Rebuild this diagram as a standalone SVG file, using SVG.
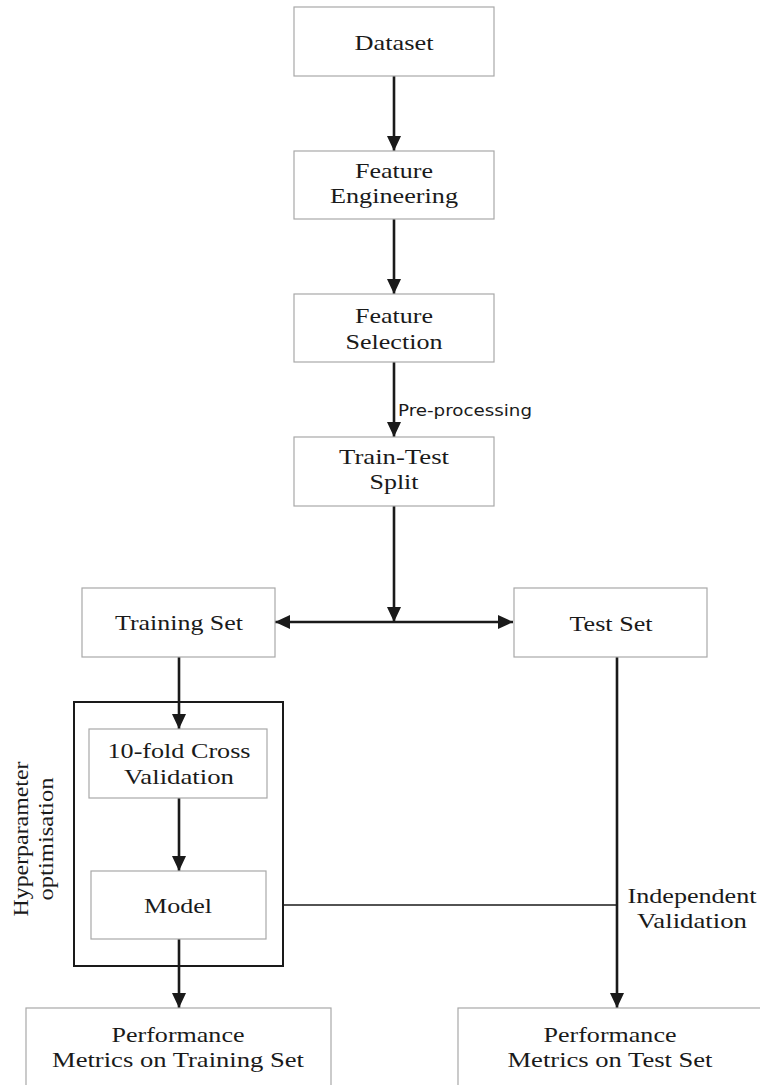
<svg xmlns="http://www.w3.org/2000/svg" width="760" height="1085" viewBox="0 0 760 1085">
<style>
.box{fill:#fff;stroke:#a8a8a8;stroke-width:1.2}
.t{font-family:"Liberation Serif","Times New Roman",serif;font-size:22px;fill:#1a1a1a;text-anchor:middle}
.lbl{font-family:"DejaVu Sans",sans-serif;font-size:16px;fill:#1a1a1a}
.ar{fill:none;stroke:#1a1a1a;stroke-width:2.6;marker-end:url(#ah)}
.ln{fill:none;stroke:#1a1a1a;stroke-width:2.6}
</style>
<defs>
<marker id="ah" markerUnits="userSpaceOnUse" markerWidth="16" markerHeight="14" refX="15" refY="7" orient="auto">
<path d="M0,0 L15,7 L0,14 z" fill="#1a1a1a"/>
</marker>
<marker id="ahs" markerUnits="userSpaceOnUse" markerWidth="16" markerHeight="14" refX="15" refY="7" orient="auto-start-reverse">
<path d="M0,0 L15,7 L0,14 z" fill="#1a1a1a"/>
</marker>
</defs>
<rect width="760" height="1085" fill="#fff"/>

<g id="connectors">
<line class="ar" x1="394" y1="76" x2="394" y2="151"/>
<line class="ar" x1="394" y1="219" x2="394" y2="294"/>
<line class="ar" x1="394" y1="362" x2="394" y2="437"/>
<line class="ar" x1="394" y1="506" x2="394" y2="622"/>
<line class="ln" x1="275" y1="622" x2="513" y2="622" marker-start="url(#ahs)" marker-end="url(#ah)"/>
<line class="ar" x1="179" y1="657" x2="179" y2="729"/>
<line class="ar" x1="179" y1="798" x2="179" y2="871"/>
<line class="ar" x1="179" y1="939" x2="179" y2="1008"/>
<line class="ar" x1="617" y1="657" x2="617" y2="1008"/>
<line fill="none" stroke="#1a1a1a" stroke-width="1.6" x1="283" y1="905" x2="617" y2="905"/>
<text class="lbl" x="398" y="416" textLength="134" lengthAdjust="spacingAndGlyphs">Pre-processing</text>
<text class="t" x="692" y="903" textLength="129" lengthAdjust="spacingAndGlyphs">Independent</text>
<text class="t" x="692" y="928" textLength="110" lengthAdjust="spacingAndGlyphs">Validation</text>
</g>

<g id="hyperparameter">
<rect x="74" y="702" width="209" height="264" fill="none" stroke="#1a1a1a" stroke-width="2"/>
<text class="t" transform="translate(28,839) rotate(-90)" x="0" y="0" textLength="155" lengthAdjust="spacingAndGlyphs">Hyperparameter</text>
<text class="t" transform="translate(53,839) rotate(-90)" x="0" y="0" textLength="123" lengthAdjust="spacingAndGlyphs">optimisation</text>
</g>

<g id="dataset">
<rect class="box" x="294" y="7" width="200" height="69"/>
<text class="t" x="394" y="50" textLength="79" lengthAdjust="spacingAndGlyphs">Dataset</text>
</g>
<g id="feature-engineering">
<rect class="box" x="294" y="151" width="200" height="68"/>
<text class="t" x="394" y="178" textLength="78" lengthAdjust="spacingAndGlyphs">Feature</text>
<text class="t" x="394" y="203" textLength="128" lengthAdjust="spacingAndGlyphs">Engineering</text>
</g>
<g id="feature-selection">
<rect class="box" x="294" y="294" width="200" height="68"/>
<text class="t" x="394" y="323" textLength="78" lengthAdjust="spacingAndGlyphs">Feature</text>
<text class="t" x="394" y="349" textLength="97" lengthAdjust="spacingAndGlyphs">Selection</text>
</g>
<g id="train-test-split">
<rect class="box" x="294" y="437" width="200" height="69"/>
<text class="t" x="394" y="464" textLength="110" lengthAdjust="spacingAndGlyphs">Train-Test</text>
<text class="t" x="394" y="489" textLength="49" lengthAdjust="spacingAndGlyphs">Split</text>
</g>
<g id="training-set">
<rect class="box" x="82" y="588" width="193" height="69"/>
<text class="t" x="179" y="630" textLength="128" lengthAdjust="spacingAndGlyphs">Training Set</text>
</g>
<g id="test-set">
<rect class="box" x="514" y="588" width="193" height="69"/>
<text class="t" x="611" y="631" textLength="83" lengthAdjust="spacingAndGlyphs">Test Set</text>
</g>
<g id="cross-validation">
<rect class="box" x="89" y="729" width="178" height="69"/>
<text class="t" x="179" y="758" textLength="143" lengthAdjust="spacingAndGlyphs">10-fold Cross</text>
<text class="t" x="179" y="784" textLength="110" lengthAdjust="spacingAndGlyphs">Validation</text>
</g>
<g id="model">
<rect class="box" x="91" y="871" width="175" height="68"/>
<text class="t" x="178" y="913" textLength="68" lengthAdjust="spacingAndGlyphs">Model</text>
</g>
<g id="perf-training">
<rect class="box" x="26" y="1008" width="305" height="100"/>
<text class="t" x="178" y="1042" textLength="133" lengthAdjust="spacingAndGlyphs">Performance</text>
<text class="t" x="178" y="1067" textLength="252" lengthAdjust="spacingAndGlyphs">Metrics on Training Set</text>
</g>
<g id="perf-test">
<rect class="box" x="458" y="1008" width="320" height="100"/>
<text class="t" x="610" y="1042" textLength="133" lengthAdjust="spacingAndGlyphs">Performance</text>
<text class="t" x="610" y="1067" textLength="205" lengthAdjust="spacingAndGlyphs">Metrics on Test Set</text>
</g>
</svg>
